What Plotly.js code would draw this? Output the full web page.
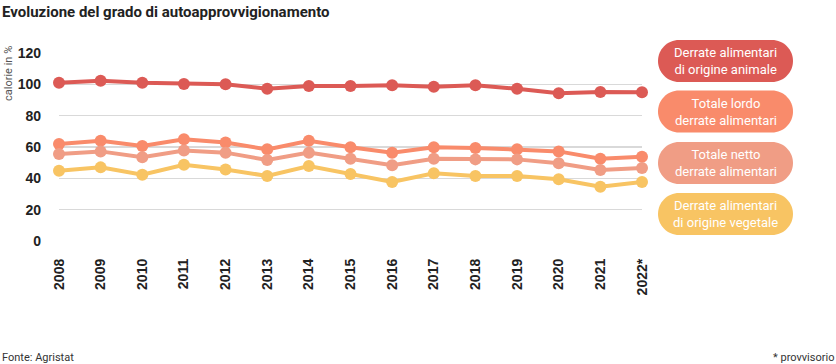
<!DOCTYPE html>
<html><head><meta charset="utf-8">
<script src="https://cdn.plot.ly/plotly-3.0.1.min.js"></script>
<style>html,body{margin:0;padding:0;background:#fff}#c{width:836px;height:364px}</style>
</head><body><div id="c"></div>
<script>
const years = ["2008","2009","2010","2011","2012","2013","2014","2015","2016","2017","2018","2019","2020","2021","2022*"];
const animale = [101,102.3,101,100.2,100,97.2,99,99,99.4,98.5,99.4,97.2,94.3,95.1,95];
const lordo = [61.9,64,60.6,64.9,62.8,58.5,64,59.8,56.4,59.8,59.4,58.5,57.2,52.5,53.8];
const netto = [55.5,57.2,53.4,57.7,56.4,51.7,56.4,52.5,48.3,52.5,52.1,52.1,49.6,45.3,46.6];
const vegetale = [44.9,47,42.3,48.7,45.7,41.5,47.9,42.8,37.7,43.2,41.5,41.5,39.4,34.7,37.7];
const seriesNames = ["Derrate alimentari<br>di origine animale","Totale lordo<br>derrate alimentari","Totale netto<br>derrate alimentari","Derrate alimentari<br>di origine vegetale"];
const colors = ["#dc5a55","#f98b6b","#f09d85","#f8c463"];
const yTicks = [0,20,40,60,80,100,120];

const W=836,H=364,L=59,R=194,T=53,B=123;
const pw=W-L-R, ph=H-T-B;
const px=p=>(p-L)/pw, py=p=>(H-B-p)/ph;
const cond = "Roboto,'DejaVu Sans Condensed',sans-serif";

const data=[animale,lordo,netto,vegetale].map((v,i)=>({
  x:years,y:v,type:'scatter',mode:'lines+markers',name:seriesNames[i],
  line:{color:colors[i],width:4},marker:{color:colors[i],size:12},cliponaxis:false,hoverinfo:'skip'
}));

function pill(cx,cy,w,h,color){
  const r=h/2,a=w/2-r,k=0.5523*r;
  const p=`M ${-a},${-r} L ${a},${-r} C ${a+k},${-r} ${a+r},${-k} ${a+r},0 C ${a+r},${k} ${a+k},${r} ${a},${r} L ${-a},${r} C ${-a-k},${r} ${-a-r},${k} ${-a-r},0 C ${-a-r},${-k} ${-a-k},${-r} ${-a},${-r} Z`;
  return {type:'path',xref:'paper',yref:'paper',xsizemode:'pixel',ysizemode:'pixel',xanchor:px(cx),yanchor:py(cy),path:p,fillcolor:color,line:{width:0},layer:'above'};
}
const pillY=[61,111.5,163,214];
const shapes=pillY.map((y,i)=>pill(725.5,y,135,42,colors[i]));
const annotations=pillY.map((y,i)=>({xref:'paper',yref:'paper',x:px(725.5),y:py(y),text:seriesNames[i],showarrow:false,
  font:{family:cond,size:13,color:'#ffffff'},xanchor:'center',yanchor:'middle',align:'center'}));
annotations.push({xref:'paper',yref:'paper',x:px(0),y:py(12),text:'<b>Evoluzione del grado di autoapprovvigionamento</b>',showarrow:false,xanchor:'left',yanchor:'middle',font:{family:cond,size:15,color:'#222'}});
annotations.push({xref:'paper',yref:'paper',x:px(8),y:py(74),text:'calorie in %',textangle:-90,showarrow:false,xanchor:'center',yanchor:'middle',font:{family:cond,size:11,color:'#555'}});
annotations.push({xref:'paper',yref:'paper',x:px(0),y:py(357),text:'Fonte: Agristat',showarrow:false,xanchor:'left',yanchor:'middle',font:{family:cond,size:11,color:'#333'}});
annotations.push({xref:'paper',yref:'paper',x:px(836),y:py(357),text:'* provvisorio',showarrow:false,xanchor:'right',yanchor:'middle',font:{family:cond,size:11,color:'#333'}});

const layout={width:W,height:H,margin:{l:L,r:R,t:T,b:B,pad:0},paper_bgcolor:'#fff',plot_bgcolor:'#fff',showlegend:false,
  xaxis:{type:'category',categoryarray:years,range:[0,14],showgrid:false,zeroline:false,showline:false,tickangle:-90,
    ticks:'',ticklabelstandoff:14,tickfont:{family:'Liberation Sans, Arial, sans-serif',size:14,color:'#222',weight:'bold'}},
  yaxis:{range:[0,120],tickvals:yTicks,showgrid:true,gridcolor:'#d9d9d9',gridwidth:1.2,zeroline:false,showline:false,ticks:'',
    ticklabelstandoff:17,tickfont:{family:'Liberation Sans, Arial, sans-serif',size:14,color:'#222',weight:'bold'}},
  shapes:shapes,annotations:annotations};
Plotly.newPlot('c',data,layout,{displayModeBar:false,staticPlot:true});
</script></body></html>
